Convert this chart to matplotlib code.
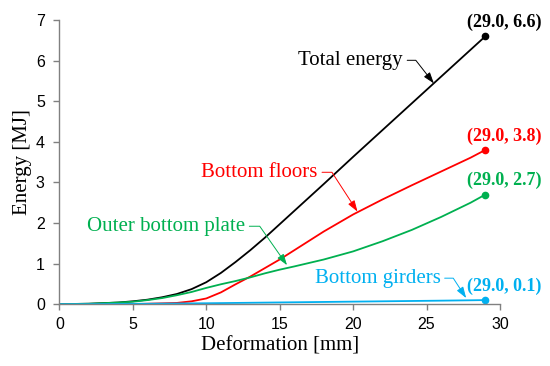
import matplotlib

matplotlib.use("Agg")
import matplotlib.pyplot as plt

SERIF = "Liberation Serif"
SANS = "Liberation Sans"

# deformation [mm]
x = [0, 2, 4, 5, 6, 7, 8, 9, 10, 11, 12, 13, 14, 15, 16, 18, 20, 22, 24, 26, 28, 29]
total = [0, 0.01, 0.04, 0.07, 0.11, 0.17, 0.25, 0.37, 0.54, 0.77, 1.04, 1.33, 1.64, 1.97,
         2.30, 2.96, 3.63, 4.29, 4.95, 5.61, 6.27, 6.6]
floors = [0, 0, 0, 0, 0.01, 0.02, 0.03, 0.07, 0.14, 0.29, 0.49, 0.68, 0.89, 1.10,
          1.33, 1.79, 2.21, 2.58, 2.93, 3.27, 3.61, 3.8]
plate = [0, 0.01, 0.04, 0.06, 0.10, 0.15, 0.22, 0.30, 0.40, 0.49, 0.57, 0.66, 0.76, 0.85,
         0.93, 1.10, 1.30, 1.55, 1.83, 2.15, 2.50, 2.7]
girders = [0, 0, 0.005, 0.008, 0.01, 0.013, 0.016, 0.019, 0.022, 0.026, 0.03, 0.034, 0.038,
           0.042, 0.046, 0.054, 0.062, 0.07, 0.078, 0.086, 0.095, 0.1]

names = ["Total energy", "Bottom floors", "Outer bottom plate", "Bottom girders"]
colors = ["#000000", "#ff0000", "#00b050", "#00b0f0"]
series = [total, floors, plate, girders]
end_labels = ["(29.0, 6.6)", "(29.0, 3.8)", "(29.0, 2.7)", "(29.0, 0.1)"]

# label text anchor (right end) and arrow tip, in data units
label_pos = [(23.4, 6.01), (17.6, 3.25), (12.65, 1.92), (25.95, 0.64)]
arrow_tip = [(25.5, 5.44), (20.3, 2.28), (15.5, 0.96), (27.7, 0.15)]
arrow_angle = [-52, -57, -55, -57]

fig = plt.figure(figsize=(5.5, 3.66), dpi=100)
ax = fig.add_axes([0.108, 0.169, 0.801, 0.776])

for ys, color in zip(series, colors):
    ax.plot(x, ys, color=color, lw=1.3)
    ax.plot(x[-1], ys[-1], "o", color=color, ms=4.5)

for ys, color, text in zip(series, colors, end_labels):
    ax.annotate(text, (x[-1], ys[-1]), xytext=(13.7, 10), textcoords="offset points",
                ha="center", va="center", color=color, fontsize=13, fontweight="bold",
                family=SERIF)

for name, color, pos, tip, ang in zip(names, colors, label_pos, arrow_tip, arrow_angle):
    ax.annotate(name, tip, xytext=pos, ha="right", va="center", color=color,
                fontsize=15, family=SERIF,
                arrowprops=dict(arrowstyle="-|>,head_length=0.45,head_width=0.15",
                                color=color, lw=0.7, relpos=(1.0, 0.5), shrinkA=1, shrinkB=0,
                                connectionstyle=f"angle,angleA=0,angleB={ang},rad=0"))

ax.set_xlim(0, 30)
ax.set_ylim(0, 7)
ax.set_xticks(range(0, 31, 5))
ax.set_yticks(range(0, 8))
for side in ["top", "right"]:
    ax.spines[side].set_visible(False)
for side in ["left", "bottom"]:
    ax.spines[side].set_color("#808080")
    ax.spines[side].set_linewidth(1.0)
ax.tick_params(direction="out", length=4.5, width=1.0, color="#808080", labelsize=11.5)
ax.tick_params(axis="y", pad=6)
ax.tick_params(axis="x", pad=5)
for lab in ax.get_xticklabels() + ax.get_yticklabels():
    lab.set_family(SANS)
ax.set_xlabel("Deformation [mm]", family=SERIF, fontsize=15, labelpad=3)
ax.set_ylabel("Energy [MJ]", family=SERIF, fontsize=15, labelpad=3)

fig.savefig("out.png", dpi=100)
